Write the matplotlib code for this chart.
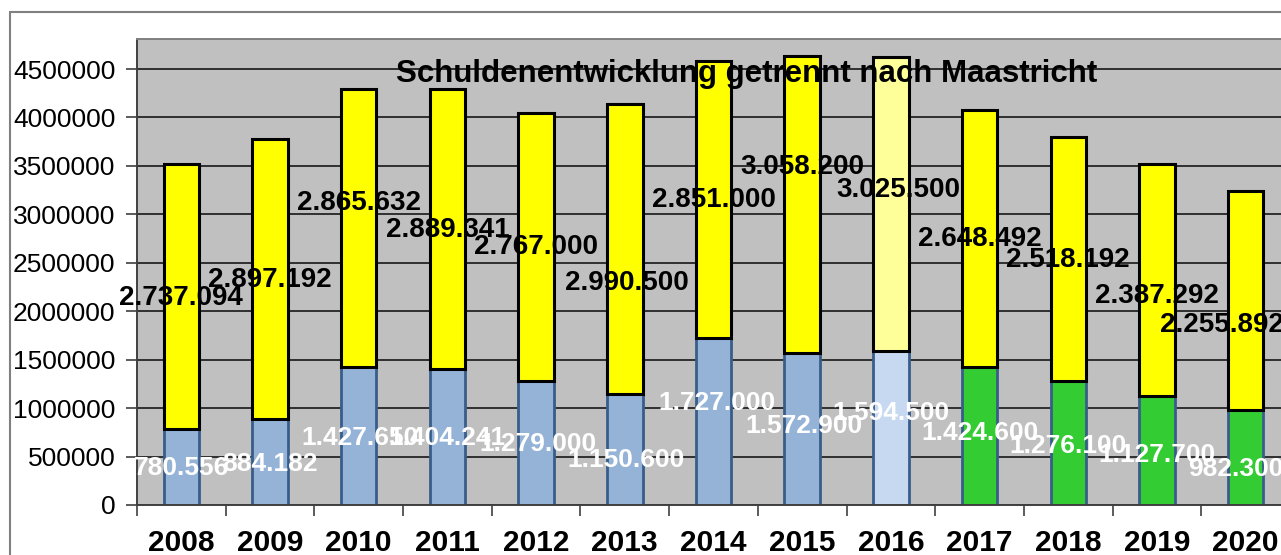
import matplotlib
matplotlib.use("Agg")
import matplotlib.pyplot as plt
from matplotlib.patches import Rectangle
import numpy as np

plt.rcParams['font.family'] = ['Liberation Sans', 'DejaVu Sans']

years = ['2008', '2009', '2010', '2011', '2012', '2013', '2014',
         '2015', '2016', '2017', '2018', '2019', '2020']
# Maastricht-relevant debt (lower part) and the rest (upper part)
maastricht = [780556, 884182, 1427650, 1404241, 1279000, 1150600, 1727000,
              1572900, 1594500, 1424600, 1276100, 1127700, 982300]
other = [2737094, 2897192, 2865632, 2889341, 2767000, 2990500, 2851000,
         3058200, 3025500, 2648492, 2518192, 2387292, 2255892]

# where Excel had the data labels dragged to (data units)
top_label_y = [2132500, 2318600, 3114500, 2835400, 2659700, 2287600, 3145500,
               3486600, 3248900, 2742400, 2525300, 2153200, 1853400]
top_label_dx = [0, 0, 0, 0, 0, 0.02, 0, 0, 0.08, 0, 0, 0, -0.27]
low_label_y = [385600, 426900, 695700, 695700, 633700, 468300, 1057500,
               819700, 954100, 747400, 613000, 520000, 375200]
low_label_dx = [0, 0, 0.01, 0, 0.02, 0.01, 0.04, 0.02, 0, 0, 0, 0, -0.11]


def de_fmt(v):
    return f"{v:,}".replace(",", ".")


def main():
    fig = plt.figure(figsize=(12.81, 5.55), dpi=100)
    fig.patches.append(Rectangle((10 / 1281, -0.1), 1.2, 0.1 + 543 / 555,
                                 transform=fig.transFigure, fill=False,
                                 edgecolor='#808080', lw=1.5))

    ax = fig.add_axes([137 / 1281, 50 / 555, 1153 / 1281, 466 / 555])
    ax.set_facecolor('#C0C0C0')

    x = np.arange(len(years))
    low_colors = ['#95B3D7'] * 8 + ['#C6D9F1'] + ['#33CC33'] * 4
    top_colors = ['#FFFF00'] * 8 + ['#FFFF99'] + ['#FFFF00'] * 4

    ax.bar(x, maastricht, width=0.4, color=low_colors, edgecolor='#385D8A',
           linewidth=2, zorder=2)
    ax.bar(x, other, width=0.4, bottom=maastricht, color=top_colors,
           edgecolor='black', linewidth=2.2, zorder=2)

    for i in range(len(years)):
        ax.text(x[i] + top_label_dx[i], top_label_y[i], de_fmt(other[i]),
                ha='center', va='center', fontsize=20, fontweight='bold',
                color='black', zorder=4)
        ax.text(x[i] + low_label_dx[i], low_label_y[i], de_fmt(maastricht[i]),
                ha='center', va='center', fontsize=19, fontweight='bold',
                color='white', zorder=4)

    ax.text(0.529, 0.925, 'Schuldenentwicklung getrennt nach Maastricht',
            transform=ax.transAxes, ha='center', va='center', fontsize=22.5,
            fontweight='bold', zorder=5)

    ax.set_xlim(-0.5, 12.5)
    ax.set_ylim(0, 4810000)
    ax.set_yticks(np.arange(0, 4500001, 500000))
    ax.set_yticklabels([str(v) for v in range(0, 4500001, 500000)])
    ax.yaxis.grid(True, color='#303030', lw=1.4, zorder=1)
    ax.set_axisbelow(True)

    ax.set_xticks(x)
    ax.set_xticklabels(years, fontsize=21.5, fontweight='bold')
    ax.set_xticks(np.arange(-0.5, 12.6, 1), minor=True)
    ax.tick_params(axis='x', which='major', length=0, pad=17)
    ax.tick_params(axis='x', which='minor', length=8, width=1.2, color='#404040')
    ax.tick_params(axis='y', labelsize=19, length=8, width=1.2,
                   color='#404040', pad=7.5)

    ax.spines['left'].set_color('#404040')
    ax.spines['left'].set_linewidth(1.4)
    ax.spines['bottom'].set_color('#404040')
    ax.spines['bottom'].set_linewidth(1.4)
    ax.spines['top'].set_color('#808080')
    ax.spines['top'].set_linewidth(1.4)
    ax.spines['right'].set_visible(False)

    fig.savefig('out.png', dpi=100)


if __name__ == "__main__":
    main()
